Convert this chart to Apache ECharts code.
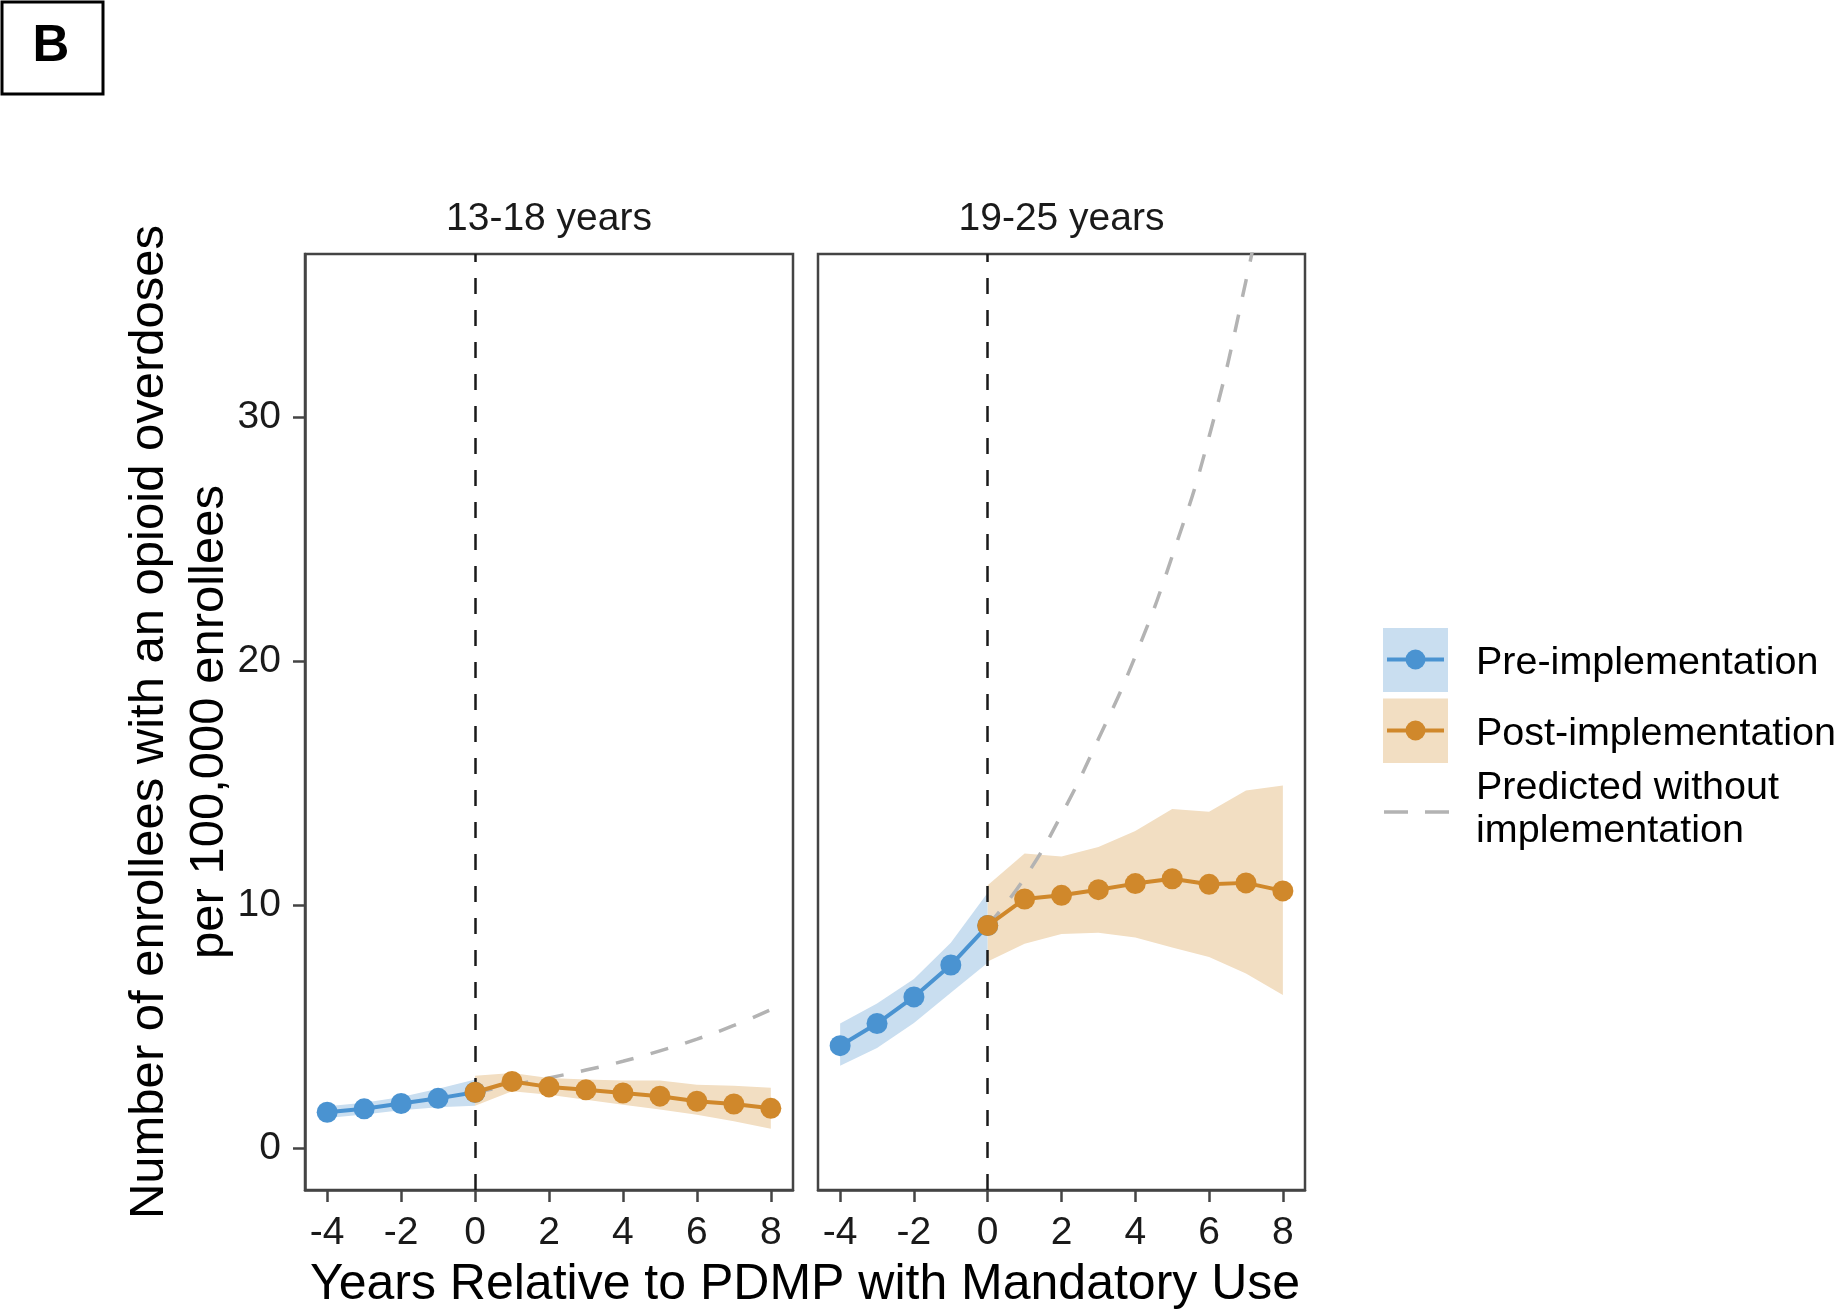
<!DOCTYPE html>
<html><head><meta charset="utf-8">
<script src="https://cdn.jsdelivr.net/npm/echarts@6/dist/echarts.min.js"></script>
<style>html,body{margin:0;padding:0;background:#fff}#c{width:1836px;height:1311px}</style>
</head><body><div id="c"></div><script>
// ---------- data ----------
var panelTitles = ['13-18 years', '19-25 years'];
var preYears = [-4, -3, -2, -1, 0];
var postYears = [0, 1, 2, 3, 4, 5, 6, 7, 8];
var predYears = [0, 1, 2, 3, 4, 5, 6, 7, 8];
var xTicks = [-4, -2, 0, 2, 4, 6, 8];
var yTicks = [0, 10, 20, 30];

// 13-18 years
var teenPre   = [1.49, 1.63, 1.85, 2.06, 2.31];
var teenPreLo = [1.25, 1.40, 1.57, 1.70, 1.76];
var teenPreHi = [1.74, 1.88, 2.12, 2.45, 2.83];
var teenPost   = [2.31, 2.75, 2.53, 2.41, 2.28, 2.15, 1.94, 1.83, 1.65];
var teenPostLo = [1.76, 2.35, 2.21, 2.00, 1.80, 1.60, 1.39, 1.12, 0.81];
var teenPostHi = [2.99, 3.10, 2.90, 2.83, 2.79, 2.79, 2.62, 2.58, 2.49];
var teenPred   = [2.31, 2.60, 2.90, 3.22, 3.58, 4.01, 4.49, 5.05, 5.70];

// 19-25 years
var adultPre   = [4.22, 5.13, 6.22, 7.53, 9.15];
var adultPreLo = [3.40, 4.13, 5.15, 6.39, 7.62];
var adultPreHi = [5.13, 5.95, 6.96, 8.44, 10.49];
var adultPost   = [9.15, 10.24, 10.39, 10.62, 10.87, 11.07, 10.84, 10.90, 10.57];
var adultPostLo = [7.67, 8.40, 8.80, 8.85, 8.66, 8.25, 7.86, 7.18, 6.30];
var adultPostHi = [10.80, 12.11, 11.98, 12.37, 13.03, 13.93, 13.82, 14.69, 14.89];
var adultPred   = [9.15, 11.1, 13.7, 16.8, 20.2, 24.3, 29.2, 35.6, 43.0];

var legendNames = ['Pre-implementation', 'Post-implementation', 'Predicted without', 'implementation'];

// ---------- style ----------
var FONT = "'Liberation Sans', Arial, Helvetica, sans-serif";
var BLUE = '#4a93d1', ORANGE = '#d0882b', BLUE_BAND = '#c9def0', ORANGE_BAND = '#f2dec2';
var GREY = '#b3b3b3', BORDER = '#444444', TXT = '#1a1a1a';

function pairs(xs, ys) { return xs.map(function (x, i) { return [x, ys[i]]; }); }

function band(idx, xs, lo, hi, color) {
  return {
    type: 'custom', xAxisIndex: idx, yAxisIndex: idx, silent: true, z: 1,
    data: xs.map(function (x, i) { return [x, lo[i], hi[i]]; }),
    encode: { x: 0, y: [1, 2] },
    renderItem: function (params, api) {
      if (params.dataIndex !== 0) return null;
      var pts = [];
      for (var i = 0; i < xs.length; i++) pts.push(api.coord([xs[i], hi[i]]));
      for (var j = xs.length - 1; j >= 0; j--) pts.push(api.coord([xs[j], lo[j]]));
      return { type: 'polygon', shape: { points: pts }, style: { fill: color } };
    }
  };
}
function lineS(idx, xs, ys, color, z) {
  return {
    type: 'line', xAxisIndex: idx, yAxisIndex: idx, data: pairs(xs, ys), z: z,
    symbol: 'circle', symbolSize: 21, silent: true,
    lineStyle: { color: color, width: 4 }, itemStyle: { color: color }
  };
}
function predS(idx, ys) {
  return {
    type: 'line', xAxisIndex: idx, yAxisIndex: idx, data: pairs(predYears, ys), z: 3,
    smooth: 0.5, symbol: 'none', silent: true, clip: true,
    lineStyle: { color: GREY, width: 3.5, type: [18, 18] },
    markLine: {
      silent: true, symbol: ['none', 'none'], label: { show: false }, animation: false,
      lineStyle: { color: TXT, width: 2.5, type: [16, 16] },
      data: [{ xAxis: 0 }]
    }
  };
}
function xAx(idx) {
  return {
    gridIndex: idx, type: 'value', min: -4.6, max: 8.6,
    splitLine: { show: false },
    axisLine: { show: true, onZero: false, lineStyle: { color: BORDER, width: 2.5 } },
    axisTick: { show: true, length: 12, customValues: xTicks, lineStyle: { color: BORDER, width: 2.5 } },
    axisLabel: { customValues: xTicks, fontSize: 39, fontFamily: FONT, color: TXT, margin: 23.5 }
  };
}
function yAx(idx) {
  var left = idx === 0;
  return {
    gridIndex: idx, type: 'value', min: -1.7, max: 36.7,
    splitLine: { show: false },
    axisLine: { show: left, onZero: false, lineStyle: { color: BORDER, width: 2.5 } },
    axisTick: { show: left, length: 12, customValues: yTicks, lineStyle: { color: BORDER, width: 2.5 } },
    axisLabel: { show: left, customValues: yTicks, fontSize: 39, fontFamily: FONT, color: TXT, margin: 24 }
  };
}
function txt(t, x, y, size, opts) {
  opts = opts || {};
  return {
    type: 'text', x: x, y: y, rotation: opts.rotation || 0, silent: true, z: 10,
    style: {
      text: t, fontSize: size, fontFamily: FONT, fontWeight: opts.weight || 'normal',
      fill: opts.fill || '#000', align: opts.align || 'center', verticalAlign: 'middle',
      lineHeight: opts.lineHeight || size * 1.2
    }
  };
}

var chart = echarts.init(document.getElementById('c'), null, { renderer: 'canvas' });
chart.setOption({
  animation: false,
  backgroundColor: '#fff',
  grid: [
    { left: 305, top: 254, width: 488, height: 936, show: true, borderColor: BORDER, borderWidth: 2.5 },
    { left: 818, top: 254, width: 487, height: 936, show: true, borderColor: BORDER, borderWidth: 2.5 }
  ],
  xAxis: [xAx(0), xAx(1)],
  yAxis: [yAx(0), yAx(1)],
  series: [
    band(0, preYears, teenPreLo, teenPreHi, BLUE_BAND),
    band(0, postYears, teenPostLo, teenPostHi, ORANGE_BAND),
    predS(0, teenPred),
    lineS(0, preYears, teenPre, BLUE, 4),
    lineS(0, postYears, teenPost, ORANGE, 5),
    band(1, preYears, adultPreLo, adultPreHi, BLUE_BAND),
    band(1, postYears, adultPostLo, adultPostHi, ORANGE_BAND),
    predS(1, adultPred),
    lineS(1, preYears, adultPre, BLUE, 4),
    lineS(1, postYears, adultPost, ORANGE, 5)
  ],
  graphic: [
    { type: 'rect', shape: { x: 2, y: 2, width: 101, height: 92 }, style: { fill: '#fff', stroke: '#000', lineWidth: 3 }, silent: true },
    txt('B', 51, 47, 51, { weight: 'bold' }),
    txt(panelTitles[0], 549, 219, 39, { fill: TXT }),
    txt(panelTitles[1], 1061.5, 219, 39, { fill: TXT }),
    txt('Number of enrollees with an opioid overdoses\nper 100,000 enrollees', 179, 722, 49, { rotation: Math.PI / 2, lineHeight: 60 }),
    txt('Years Relative to PDMP with Mandatory Use', 805, 1285, 50),
    // legend
    { type: 'rect', shape: { x: 1383, y: 628, width: 65, height: 64 }, style: { fill: BLUE_BAND }, silent: true },
    { type: 'line', shape: { x1: 1387, y1: 659.5, x2: 1444, y2: 659.5 }, style: { stroke: BLUE, lineWidth: 4 }, silent: true },
    { type: 'circle', shape: { cx: 1415.5, cy: 659.5, r: 10 }, style: { fill: BLUE }, silent: true },
    { type: 'rect', shape: { x: 1383, y: 698.5, width: 65, height: 64.5 }, style: { fill: ORANGE_BAND }, silent: true },
    { type: 'line', shape: { x1: 1387, y1: 730.5, x2: 1444, y2: 730.5 }, style: { stroke: ORANGE, lineWidth: 4 }, silent: true },
    { type: 'circle', shape: { cx: 1415.5, cy: 730.5, r: 10 }, style: { fill: ORANGE }, silent: true },
    { type: 'line', shape: { x1: 1384, y1: 812, x2: 1449, y2: 812 }, style: { stroke: GREY, lineWidth: 3.5, lineDash: [24, 17] }, silent: true },
    txt(legendNames[0], 1476, 663.5, 39.5, { align: 'left' }),
    txt(legendNames[1], 1476, 734, 39.5, { align: 'left' }),
    txt(legendNames[2], 1476, 788.5, 39.5, { align: 'left' }),
    txt(legendNames[3], 1476, 831, 39.5, { align: 'left' })
  ]
});
</script></body></html>
